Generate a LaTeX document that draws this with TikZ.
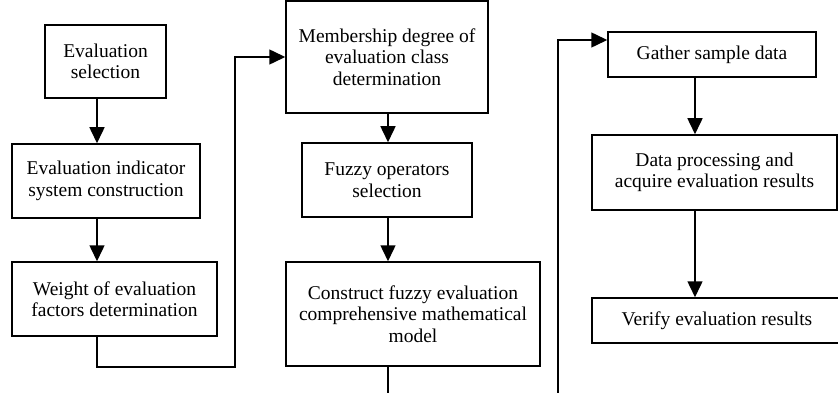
\documentclass[tikz,border=0pt]{standalone}
\usepackage{fontspec}
\setmainfont{Liberation Serif}
\usetikzlibrary{arrows.meta}
\begin{document}
\begin{tikzpicture}[
    x=1pt, y=-1pt,
    box/.style={draw, line width=1.5pt, inner sep=0pt, align=center,
                font=\fontsize{19.5}{21.5}\selectfont},
    arr/.style={-{Triangle[length=16pt,width=15pt]}, line width=1.5pt}
]
    \useasboundingbox (0,0) rectangle (838,393);

    % left column: set up the indicator system and its weights
    \node[box, minimum width=121pt, minimum height=73pt] (n1) at (105.5,61.5) {Evaluation\\selection};
    \node[box, minimum width=188pt, minimum height=74pt] (n2) at (106,181)   {Evaluation indicator\\system construction};
    \node[box, minimum width=205pt, minimum height=74pt] (n3) at (114.5,299) {Weight of evaluation\\factors determination};

    % middle column: membership degrees and the fuzzy model
    \node[box, minimum width=202pt, minimum height=112pt] (n4) at (387,57)  {Membership degree of\\evaluation class\\determination};
    \node[box, minimum width=170pt, minimum height=74pt]  (n5) at (387,180) {Fuzzy operators\\selection};
    \node[box, minimum width=254pt, minimum height=104pt] (n6) at (413,314) {Construct fuzzy evaluation\\comprehensive mathematical\\model};

    % right column: data, results and check
    \node[box, minimum width=208pt, minimum height=45pt] (n7) at (712,54.5)  {Gather sample data};
    \node[box, minimum width=245pt, minimum height=75pt] (n8) at (714.5,172.5) {Data processing and\\acquire evaluation results};
    \node[box, minimum width=250pt, minimum height=45pt] (n9) at (717,320.5) {Verify evaluation results};

    \coordinate (lx) at (97,0);
    \coordinate (mx) at (388,0);
    \coordinate (rx) at (695,0);
    \coordinate (t1) at (235,367);
    \coordinate (t2) at (558,40);
    \coordinate (e1) at (388,393);
    \coordinate (e2) at (558,393);

    \draw[arr] (n1.south -| lx) -- (n2.north -| lx);
    \draw[arr] (n2.south -| lx) -- (n3.north -| lx);
    \draw[arr] (n3.south -| lx) |- (t1) |- (n4.west);
    \draw[arr] (n4.south -| mx) -- (n5.north -| mx);
    \draw[arr] (n5.south -| mx) -- (n6.north -| mx);
    \draw[line width=1.5pt] (n6.south -| mx) -- (e1);
    \draw[arr] (e2) -- (t2) -- (t2 -| n7.west);
    \draw[arr] (n7.south -| rx) -- (n8.north -| rx);
    \draw[arr] (n8.south -| rx) -- (n9.north -| rx);
\end{tikzpicture}
\end{document}
